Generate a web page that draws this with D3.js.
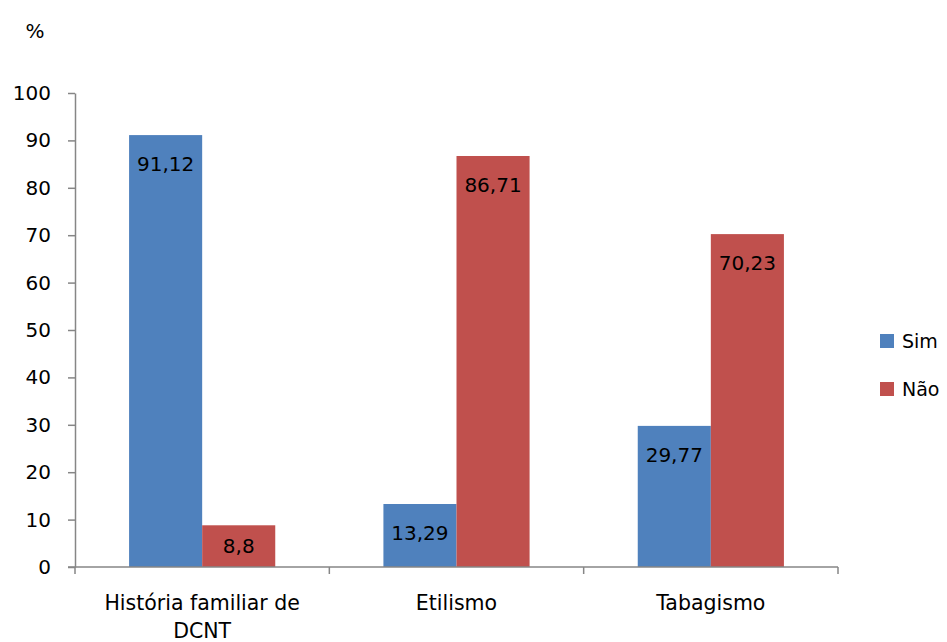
<!DOCTYPE html>
<html>
<head>
<meta charset="utf-8">
<script src="https://cdn.jsdelivr.net/npm/d3@7"></script>
<style>
  html, body { margin: 0; padding: 0; background: #fff; }
  svg { display: block; }
  text { font-family: "DejaVu Sans", Verdana, sans-serif; fill: #000; }
</style>
</head>
<body>
<svg id="chart" width="947" height="642"></svg>
<script>
// Categories and series (percent)
const categories = [["História familiar de", "DCNT"], ["Etilismo"], ["Tabagismo"]];
const seriesNames = ["Sim", "Não"];
const simValues = [91.12, 13.29, 29.77];
const naoValues = [8.8, 86.71, 70.23];
const valueLabels = [["91,12", "8,8"], ["13,29", "86,71"], ["29,77", "70,23"]];
const yTicks = [0, 10, 20, 30, 40, 50, 60, 70, 80, 90, 100];
const colors = ["#4F81BD", "#C0504D"];

const svg = d3.select("#chart");
const plot = { left: 75, right: 838, top: 93, bottom: 567 };

const x0 = d3.scaleBand()
  .domain(d3.range(categories.length))
  .range([plot.left, plot.right])
  .paddingInner(0).paddingOuter(0);

const x1 = d3.scaleBand()
  .domain(d3.range(seriesNames.length))
  .range([0, x0.bandwidth()])
  .paddingOuter(0.74).paddingInner(0);

const y = d3.scaleLinear().domain([0, 100]).range([plot.bottom, plot.top]);

const axisColor = "#868686";

// Y axis
const yAxis = svg.append("g")
  .attr("transform", `translate(${plot.left},0)`)
  .call(d3.axisLeft(y).tickValues(yTicks).tickSize(7).tickPadding(17).tickSizeOuter(0));
yAxis.select(".domain").attr("stroke", axisColor).attr("stroke-width", 1.5);
yAxis.selectAll(".tick line").attr("stroke", axisColor).attr("stroke-width", 1.5);
yAxis.selectAll(".tick text").attr("font-size", 20).attr("font-family", "DejaVu Sans").attr("fill", "#000");

// Bars
const data = categories.map((c, i) => [simValues[i], naoValues[i]]);
const groups = svg.append("g").selectAll("g")
  .data(data).join("g")
  .attr("transform", (d, i) => `translate(${x0(i)},0)`);

groups.selectAll("rect")
  .data(d => d.map((v, s) => ({ v, s })))
  .join("rect")
  .attr("x", d => x1(d.s))
  .attr("width", x1.bandwidth())
  .attr("y", d => y(d.v))
  .attr("height", d => y(0) - y(d.v))
  .attr("fill", d => colors[d.s]);

// Value labels inside bar ends
groups.each(function (d, i) {
  d3.select(this).selectAll("text.val")
    .data(d.map((v, s) => ({ v, s })))
    .join("text")
    .attr("class", "val")
    .attr("x", e => x1(e.s) + x1.bandwidth() / 2)
    .attr("y", e => Math.min(y(e.v) + 29, (y(e.v) + y(0)) / 2))
    .attr("dy", "0.36em")
    .attr("text-anchor", "middle")
    .attr("font-size", 20)
    .text(e => valueLabels[i][e.s]);
});

// X axis
const xAxis = svg.append("g")
  .attr("transform", `translate(0,${plot.bottom})`);
xAxis.append("line")
  .attr("x1", plot.left - 7).attr("x2", plot.right)
  .attr("stroke", axisColor).attr("stroke-width", 1.5);
const tickXs = d3.range(categories.length + 1).map(i => i < categories.length ? x0(i) : x0(i - 1) + x0.bandwidth());
xAxis.selectAll("line.tick")
  .data(tickXs).join("line")
  .attr("class", "tick")
  .attr("x1", d => d).attr("x2", d => d)
  .attr("y1", 0).attr("y2", 7)
  .attr("stroke", axisColor).attr("stroke-width", 1.5);

xAxis.selectAll("text.cat")
  .data(categories).join("text")
  .attr("class", "cat")
  .attr("x", (d, i) => x0(i) + x0.bandwidth() / 2)
  .attr("y", 43)
  .attr("text-anchor", "middle")
  .attr("font-size", 20.5)
  .each(function (lines) {
    d3.select(this).selectAll("tspan")
      .data(lines).join("tspan")
      .attr("x", d3.select(this).attr("x"))
      .attr("dy", (l, k) => k === 0 ? 0 : 28)
      .text(l => l);
  });

// Unit label
svg.append("text")
  .attr("x", 35).attr("y", 38)
  .attr("text-anchor", "middle")
  .attr("font-size", 20)
  .text("%");

// Legend
const legend = svg.append("g").attr("transform", "translate(880,0)");
const legendYs = [341, 389];
seriesNames.forEach((name, s) => {
  legend.append("rect")
    .attr("x", 0).attr("y", legendYs[s] - 7)
    .attr("width", 14).attr("height", 14)
    .attr("fill", colors[s]);
  legend.append("text")
    .attr("x", 22).attr("y", legendYs[s])
    .attr("dy", "0.36em")
    .attr("font-size", 19)
    .text(name);
});
</script>
</body>
</html>
